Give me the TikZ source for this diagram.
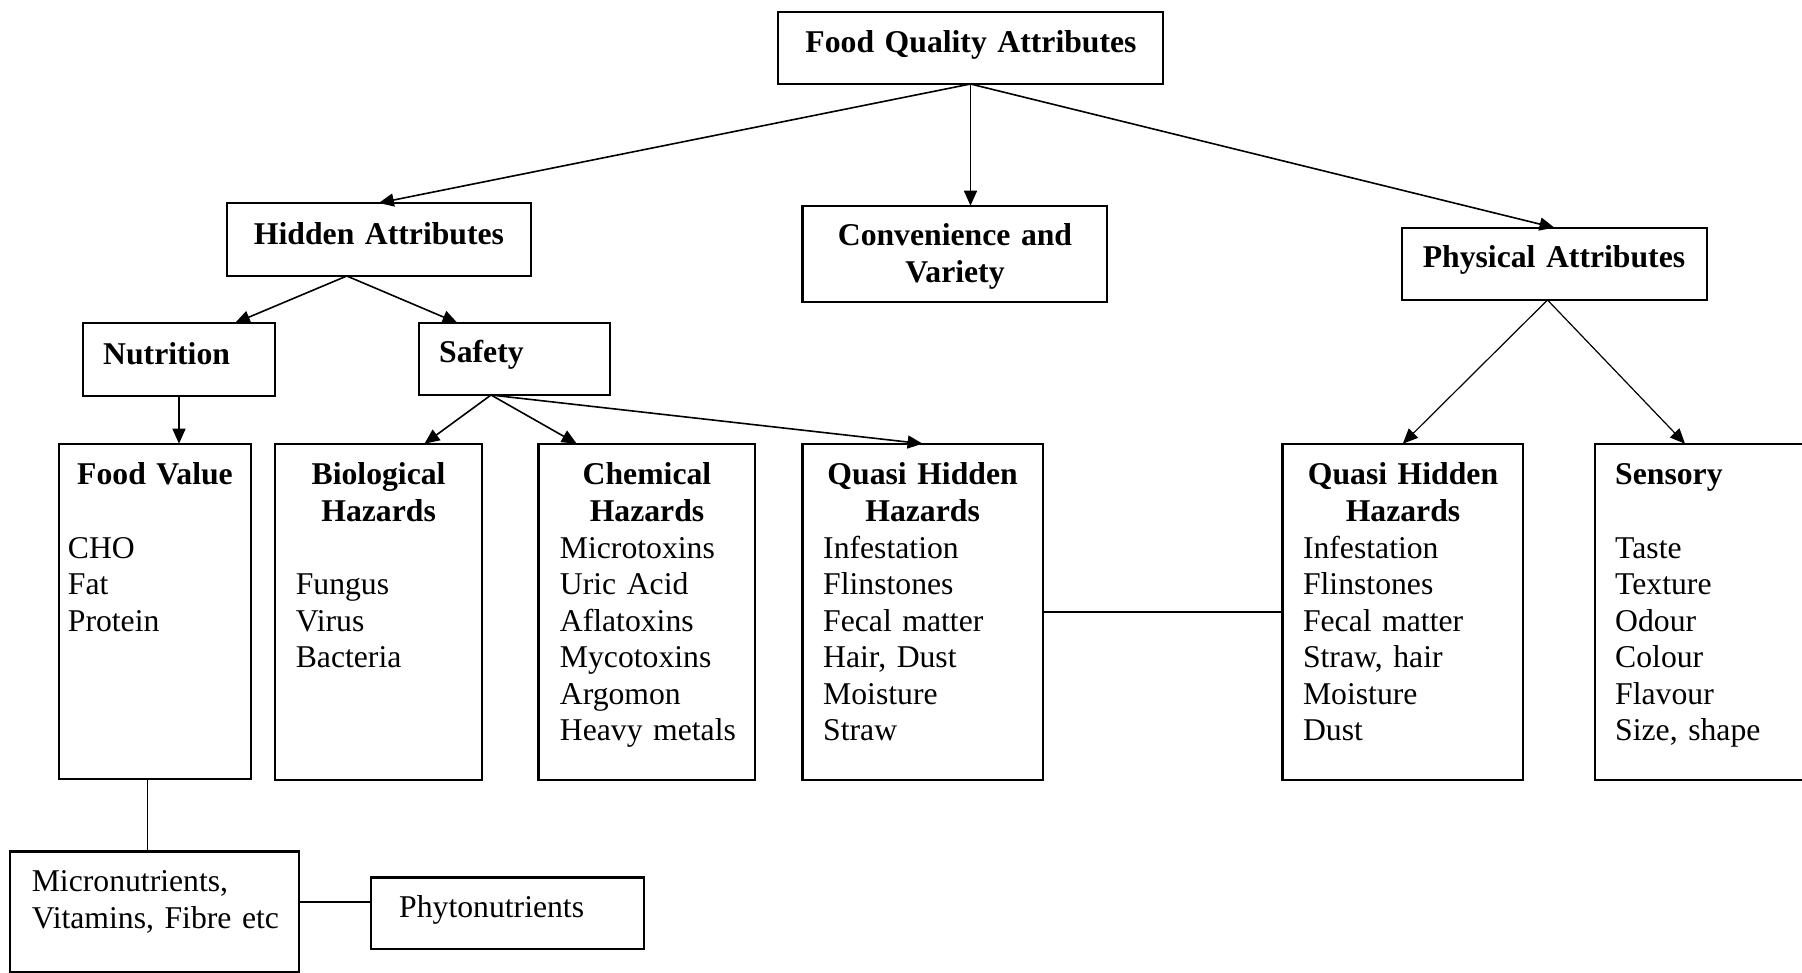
\documentclass[tikz,border=0pt]{standalone}
\usepackage{fontspec}
\setmainfont{Liberation Serif}
\usetikzlibrary{arrows.meta,calc}
\newcommand\fsz{\fontsize{31.7}{36.5}\selectfont}
\begin{document}
\begin{tikzpicture}[x=1pt,y=-1pt,
  box/.style={draw, line width=2.3pt, inner sep=0pt, outer sep=0pt, anchor=north west},
  ttl/.style={font=\fsz\bfseries, align=center, text width=520pt, inner sep=0pt, anchor=base},
  lst/.style={font=\fsz, align=left, text width=300pt, inner sep=0pt, anchor=base west},
  arr/.style={-{Triangle[length=15pt,width=13pt]}, line width=1.6pt},
  thinarr/.style={-{Triangle[length=15pt,width=13pt]}, line width=1.2pt},
  ln/.style={line width=1.8pt}]
\useasboundingbox (0,0) rectangle (1802,973);

% boxes
\node[box, minimum width=385pt, minimum height=72.3pt] (FQ) at (778,11.7) {};
\node[box, minimum width=304pt, minimum height=73pt] (Hidden) at (226.8,203) {};
\node[box, minimum width=304.5pt, minimum height=96pt] (Conv) at (802.5,205.7) {};
\node[box, minimum width=305pt, minimum height=72.3pt] (Phys) at (1402,227.7) {};
\node[box, minimum width=192pt, minimum height=73pt] (Nutr) at (83,323) {};
\node[box, minimum width=191pt, minimum height=72pt] (Safety) at (419,323) {};
\node[box, minimum width=192pt, minimum height=335.5pt] (FV) at (59,443.7) {};
\node[box, minimum width=207pt, minimum height=336.3pt] (Bio) at (275,443.7) {};
\node[box, minimum width=216.5pt, minimum height=336.3pt] (Chem) at (538.5,443.7) {};
\node[box, minimum width=240.2pt, minimum height=336.3pt] (QHa) at (802.5,443.7) {};
\node[box, minimum width=240.4pt, minimum height=336.3pt] (QHb) at (1282.6,443.7) {};
\node[box, minimum width=214pt, minimum height=336.3pt] (Sens) at (1595,443.7) {};
\node[box, minimum width=288.7pt, minimum height=120.6pt] (Micro) at (10.3,851.4) {};
\node[box, minimum width=273.2pt, minimum height=71.5pt] (Phyto) at (370.8,877.5) {};

% texts
\node[ttl] (tFQ) at (971,53) {Food Quality Attributes};
\node[ttl] (tHidden) at (379,245) {Hidden Attributes};
\node[ttl] (tConv) at (955,246) {Convenience and\\Variety};
\node[ttl] (tPhys) at (1554,268) {Physical Attributes};
\node[lst, font=\fsz\bfseries] (tNutr) at (103,365) {Nutrition};
\node[lst, font=\fsz\bfseries] (tSafety) at (439,363) {Safety};

\node[ttl] (tFV) at (155,484.5) {Food Value};
\node[lst] (lFV) at (67.7,558) {CHO\\Fat\\Protein};

\node[ttl] (tBio) at (378.6,484.5) {Biological\\Hazards};
\node[lst] (lBio) at (295.6,594.5) {Fungus\\Virus\\Bacteria};

\node[ttl] (tChem) at (647,484.5) {Chemical\\Hazards};
\node[lst] (lChem) at (559.7,558) {Microtoxins\\Uric Acid\\Aflatoxins\\Mycotoxins\\Argomon\\Heavy metals};

\node[ttl] (tQHa) at (922.6,484.5) {Quasi Hidden\\Hazards};
\node[lst] (lQHa) at (823,558) {Infestation\\Flinstones\\Fecal matter\\Hair, Dust\\Moisture\\Straw};

\node[ttl] (tQHb) at (1403,484.5) {Quasi Hidden\\Hazards};
\node[lst] (lQHb) at (1302.8,558) {Infestation\\Flinstones\\Fecal matter\\Straw, hair\\Moisture\\Dust};

\node[lst, font=\fsz\bfseries] (tSens) at (1615,484.5) {Sensory};
\node[lst] (lSens) at (1615,558) {Taste\\Texture\\Odour\\Colour\\Flavour\\Size, shape};

\node[lst] (lMicro) at (31.6,891.6) {Micronutrients,\\Vitamins, Fibre etc};
\node[lst] (lPhyto) at (399,917) {Phytonutrients};

% connectors
\draw[arr] (FQ.south) -- (Hidden.north);
\draw[arr] (FQ.south) -- (FQ.south |- Conv.north);
\draw[arr] (FQ.south) -- (Phys.north);

\coordinate (hs) at ($(Hidden.south)+(-32,0)$);
\draw[arr] (hs) -- ($(Nutr.north)+(56,0)$);
\draw[arr] (hs) -- ($(Safety.north)+(-57,0)$);

\draw[arr] (Nutr.south) -- (Nutr.south |- FV.north);

\coordinate (ss) at ($(Safety.south)+(-23.5,0)$);
\draw[arr] (ss) -- ($(Bio.north)+(46,0)$);
\draw[arr] (ss) -- ($(Chem.north)+(-70,0)$);
\draw[arr] (ss) -- (QHa.north);

\coordinate (ps) at ($(Phys.south)+(-7,0)$);
\draw[thinarr] (ps) -- (QHb.north);
\draw[thinarr] (ps) -- ($(Sens.north west)+(90,0)$);

\coordinate (fvs) at ($(FV.south)+(-7.5,0)$);
\draw[ln] (fvs) -- (fvs |- Micro.north);

\coordinate (mp) at ($(Micro.east)+(0,-10)$);
\draw[ln] (mp) -- (mp -| Phyto.west);

\draw[ln] (QHa.east) -- (QHb.west);
\end{tikzpicture}
\end{document}
